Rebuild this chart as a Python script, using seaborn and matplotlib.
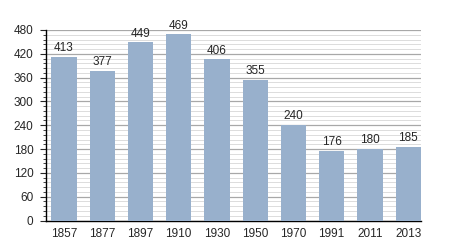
import matplotlib
matplotlib.use("Agg")
import matplotlib.pyplot as plt
import seaborn as sns
import pandas as pd
from matplotlib.ticker import MultipleLocator

years = ["1857", "1877", "1897", "1910", "1930", "1950", "1970", "1991", "2011", "2013"]
population = [413, 377, 449, 469, 406, 355, 240, 176, 180, 185]

df = pd.DataFrame({"year": years, "pop": population})

sns.set_style("white")
plt.rcParams["font.family"] = ["Liberation Sans", "DejaVu Sans"]

fig = plt.figure(figsize=(4.5, 2.5), dpi=100)
ax = fig.add_axes([0.102, 0.118, 0.833, 0.762])

sns.barplot(data=df, x="year", y="pop", color="#98B0CC", width=0.66,
            saturation=1, ax=ax, zorder=3, edgecolor="none", linewidth=0)

ax.set_ylim(0, 480)
ax.set_xlim(-0.47, 9.33)
ax.yaxis.set_major_locator(MultipleLocator(60))
ax.yaxis.set_minor_locator(MultipleLocator(12))
ax.grid(which="major", axis="y", color="#a8a8a8", linewidth=0.9, zorder=0)
ax.grid(which="minor", axis="y", color="#dcdcdc", linewidth=0.7, zorder=0)
ax.set_axisbelow(True)

for s in ["top", "right"]:
    ax.spines[s].set_visible(False)
ax.spines["left"].set_color("black")
ax.spines["bottom"].set_color("black")
ax.spines["left"].set_linewidth(1.0)
ax.spines["bottom"].set_linewidth(1.0)

ax.tick_params(axis="y", which="major", left=True, length=4, width=0.8,
               labelsize=8.5, pad=5)
ax.tick_params(axis="y", which="minor", left=True, length=2, width=0.6)
ax.tick_params(axis="x", bottom=False, labelsize=8.5, pad=2)
ax.set_xlabel("")
ax.set_ylabel("")

for c in ax.containers:
    ax.bar_label(c, labels=[str(v) for v in population], fontsize=8.5, padding=2)

fig.savefig("out.png", dpi=100)
